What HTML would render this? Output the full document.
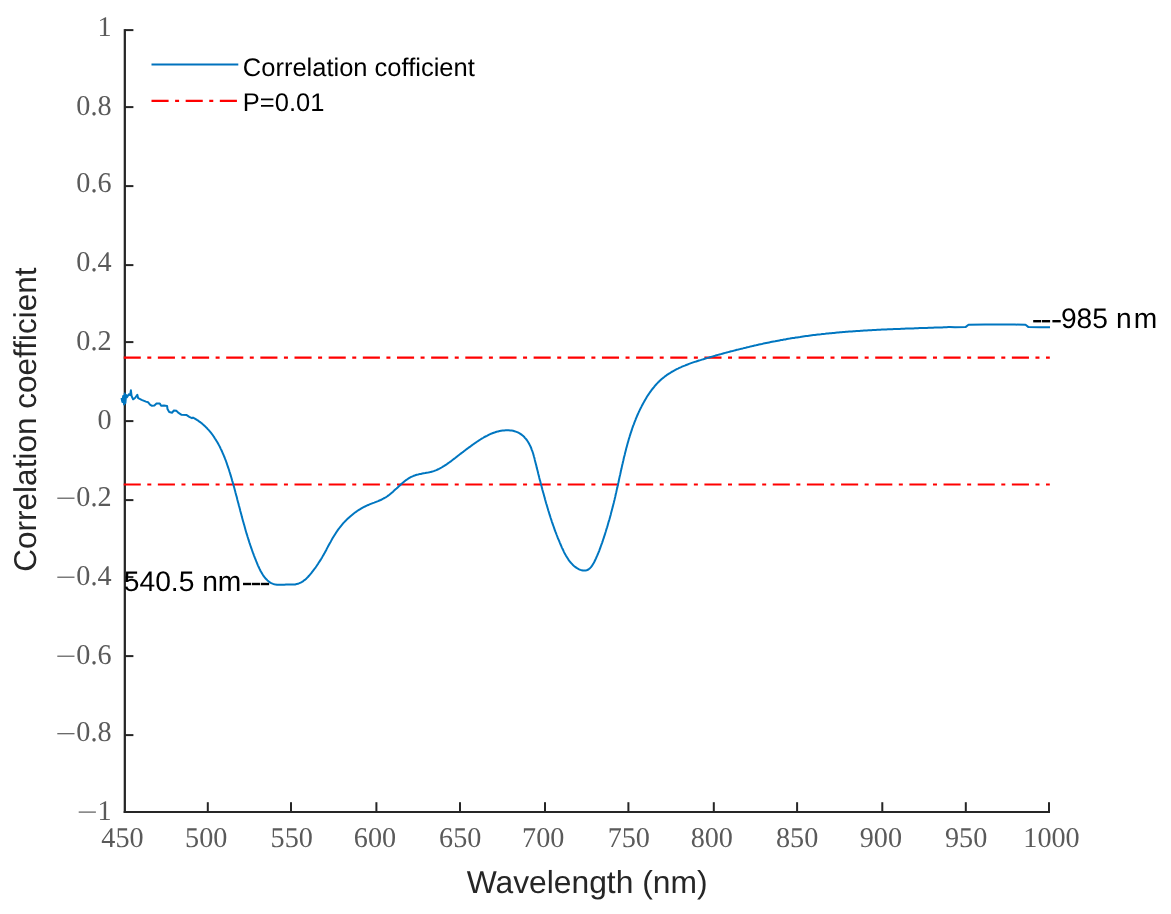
<!DOCTYPE html>
<html><head><meta charset="utf-8"><title>Correlation coefficient vs wavelength</title>
<style>html,body{margin:0;padding:0;background:#fff}body{width:1171px;height:914px;overflow:hidden;font-family:"Liberation Sans",sans-serif}svg{display:block;will-change:transform;text-rendering:geometricPrecision;filter:blur(0.35px)}</style>
</head><body>
<svg width="1171" height="914" viewBox="0 0 1171 914">
<rect width="100%" height="100%" fill="#fff"/>
<g fill="#262626">
<rect x="123.7" y="29.1" width="2.25" height="783.9"/>
<rect x="123.7" y="811" width="926.3" height="2"/>
<rect x="206.8" y="802.2" width="2" height="9"/>
<rect x="290.0" y="802.2" width="2" height="9"/>
<rect x="375.4" y="802.2" width="2" height="9"/>
<rect x="459.0" y="802.2" width="2" height="9"/>
<rect x="544.0" y="802.2" width="2" height="9"/>
<rect x="627.4" y="802.2" width="2" height="9"/>
<rect x="712.8" y="802.2" width="2" height="9"/>
<rect x="796.1" y="802.2" width="2" height="9"/>
<rect x="881.3" y="802.2" width="2" height="9"/>
<rect x="964.8" y="802.2" width="2" height="9"/>
<rect x="1048.0" y="802.2" width="2" height="9"/>
<rect x="125" y="29.1" width="8.4" height="2"/>
<rect x="125" y="106.1" width="8.4" height="2"/>
<rect x="125" y="185.1" width="8.4" height="2"/>
<rect x="125" y="264.1" width="8.4" height="2"/>
<rect x="125" y="341.1" width="8.4" height="2"/>
<rect x="125" y="420.1" width="8.4" height="2"/>
<rect x="125" y="499.1" width="8.4" height="2"/>
<rect x="125" y="576.1" width="8.4" height="2"/>
<rect x="125" y="655.1" width="8.4" height="2"/>
<rect x="125" y="734.1" width="8.4" height="2"/>
</g>
<line x1="123.7" y1="357.6" x2="1049.8" y2="357.6" stroke="#ff0000" stroke-width="2.2" stroke-dasharray="17.1 6.5 4 6.56"/>
<line x1="123.7" y1="484.5" x2="1049.8" y2="484.5" stroke="#ff0000" stroke-width="2.2" stroke-dasharray="17.1 6.5 4 6.56"/>
<path d="M121.5 398.0 L122.4 402.0 L123.2 396.0 L124.0 404.5 L124.7 393.5 L125.4 403.0 L126.1 395.0 L127.0 397.2 L128.8 394.4 L130.2 395.0 L130.9 390.3 L131.6 396.0 L133.1 399.3 L135.0 398.0 L137.3 394.8 L138.2 398.2 L141.6 399.9 L145.9 401.6 L148.0 402.2 L150.0 404.6 L152.0 405.8 L154.4 405.5 L156.5 403.6 L159.8 403.5 L161.1 405.7 L164.0 405.6 L167.1 405.9 L167.5 409.1 L169.2 412.1 L172.2 412.7 L173.9 410.4 L176.5 410.8 L178.2 412.7 L181.6 414.8 L186.7 415.1 L189.3 416.8 L192.0 418.2 L193.0 417.6 L194.4 418.3 L195.7 419.1 L196.9 419.9 L198.2 420.7 L199.4 421.6 L200.6 422.4 L201.7 423.3 L202.8 424.3 L203.9 425.2 L205.0 426.2 L206.0 427.3 L207.1 428.3 L208.0 429.4 L209.0 430.4 L210.0 431.6 L210.9 432.7 L211.8 433.8 L212.7 435.0 L213.5 436.2 L214.3 437.4 L215.1 438.7 L215.9 439.9 L216.7 441.2 L217.5 442.5 L218.2 443.8 L218.9 445.1 L219.6 446.4 L220.3 447.8 L220.9 449.1 L221.6 450.5 L222.2 451.9 L222.8 453.3 L223.4 454.7 L224.0 456.1 L224.6 457.5 L225.1 458.9 L225.7 460.3 L226.2 461.8 L226.7 463.2 L227.2 464.7 L227.7 466.1 L228.2 467.6 L228.7 469.0 L229.2 470.5 L229.6 472.0 L230.1 473.4 L230.5 474.9 L231.0 476.4 L231.4 477.8 L231.8 479.3 L232.2 480.8 L232.7 482.2 L233.1 483.7 L233.5 485.1 L233.9 486.6 L234.3 488.0 L234.7 489.4 L235.1 490.9 L235.4 492.3 L235.8 493.8 L236.2 495.2 L236.6 496.6 L237.0 498.1 L237.3 499.5 L237.7 500.9 L238.1 502.4 L238.5 503.8 L238.8 505.2 L239.2 506.6 L239.6 508.1 L240.0 509.5 L240.3 510.9 L240.7 512.3 L241.1 513.8 L241.5 515.2 L241.8 516.6 L242.2 518.0 L242.6 519.5 L243.0 520.9 L243.4 522.3 L243.8 523.7 L244.2 525.1 L244.6 526.6 L245.0 528.0 L245.4 529.4 L245.8 530.9 L246.2 532.3 L246.6 533.7 L247.1 535.1 L247.5 536.6 L248.0 538.0 L248.4 539.4 L248.9 540.9 L249.3 542.3 L249.8 543.7 L250.3 545.2 L250.8 546.6 L251.3 548.1 L251.8 549.5 L252.3 551.0 L252.8 552.4 L253.4 553.9 L253.9 555.3 L254.5 556.8 L255.0 558.2 L255.6 559.7 L256.2 561.2 L256.8 562.6 L257.4 564.1 L258.0 565.6 L258.7 567.0 L259.3 568.4 L260.0 569.8 L260.7 571.2 L261.5 572.5 L262.2 573.8 L263.0 575.1 L263.9 576.3 L264.7 577.4 L265.6 578.5 L266.6 579.5 L267.5 580.4 L268.5 581.3 L269.6 582.1 L270.7 582.8 L271.9 583.4 L273.1 583.9 L274.3 584.3 L275.6 584.6 L277.0 584.7 L278.4 584.8 L279.8 584.8 L281.3 584.8 L282.9 584.7 L284.4 584.7 L286.0 584.6 L287.5 584.6 L289.1 584.6 L290.6 584.6 L292.2 584.6 L293.7 584.5 L295.2 584.4 L296.6 584.1 L298.0 583.8 L299.4 583.2 L300.7 582.6 L302.0 581.9 L303.3 581.1 L304.5 580.1 L305.7 579.2 L306.8 578.1 L307.9 577.0 L309.0 575.8 L310.0 574.6 L311.1 573.4 L312.0 572.2 L313.0 570.9 L313.9 569.7 L314.8 568.5 L315.7 567.3 L316.6 566.0 L317.4 564.8 L318.2 563.6 L319.0 562.3 L319.8 561.1 L320.6 559.9 L321.4 558.6 L322.1 557.4 L322.8 556.1 L323.5 554.9 L324.3 553.6 L325.0 552.3 L325.7 551.0 L326.4 549.7 L327.0 548.4 L327.7 547.1 L328.4 545.8 L329.1 544.5 L329.8 543.2 L330.6 541.9 L331.3 540.6 L332.0 539.3 L332.7 538.1 L333.5 536.8 L334.3 535.5 L335.1 534.2 L335.9 532.9 L336.7 531.7 L337.6 530.4 L338.5 529.2 L339.4 528.0 L340.3 526.8 L341.3 525.6 L342.3 524.4 L343.3 523.2 L344.3 522.1 L345.4 521.0 L346.5 519.9 L347.6 518.8 L348.8 517.7 L349.9 516.7 L351.1 515.7 L352.3 514.7 L353.5 513.7 L354.7 512.8 L356.0 511.9 L357.2 511.0 L358.5 510.2 L359.8 509.4 L361.0 508.6 L362.3 507.8 L363.6 507.1 L364.9 506.5 L366.3 505.8 L367.6 505.2 L368.9 504.7 L370.2 504.1 L371.5 503.6 L372.8 503.1 L374.2 502.6 L375.5 502.1 L376.8 501.6 L378.1 501.1 L379.4 500.5 L380.7 500.0 L382.0 499.3 L383.2 498.7 L384.5 498.0 L385.7 497.3 L387.0 496.5 L388.2 495.6 L389.4 494.7 L390.6 493.7 L391.8 492.7 L393.0 491.7 L394.1 490.6 L395.3 489.5 L396.5 488.5 L397.7 487.4 L398.9 486.3 L400.1 485.2 L401.3 484.1 L402.5 483.1 L403.7 482.1 L404.9 481.1 L406.1 480.1 L407.4 479.2 L408.6 478.4 L409.9 477.6 L411.2 476.9 L412.6 476.3 L413.9 475.7 L415.3 475.3 L416.7 474.8 L418.1 474.5 L419.5 474.1 L420.9 473.9 L422.3 473.6 L423.8 473.3 L425.2 473.1 L426.6 472.8 L428.1 472.6 L429.5 472.3 L430.9 471.9 L432.3 471.6 L433.7 471.1 L435.0 470.6 L436.4 470.1 L437.7 469.5 L439.0 468.9 L440.4 468.2 L441.6 467.5 L442.9 466.7 L444.2 465.9 L445.4 465.1 L446.7 464.3 L447.9 463.4 L449.2 462.5 L450.4 461.7 L451.6 460.7 L452.8 459.8 L454.0 458.9 L455.2 458.0 L456.4 457.0 L457.6 456.1 L458.7 455.2 L459.9 454.3 L461.1 453.4 L462.3 452.5 L463.5 451.6 L464.6 450.7 L465.8 449.8 L467.0 448.9 L468.2 448.0 L469.4 447.1 L470.6 446.3 L471.8 445.4 L473.0 444.5 L474.2 443.7 L475.4 442.8 L476.6 442.0 L477.9 441.2 L479.1 440.3 L480.4 439.5 L481.7 438.7 L482.9 438.0 L484.2 437.2 L485.5 436.5 L486.9 435.8 L488.2 435.1 L489.6 434.4 L490.9 433.8 L492.3 433.3 L493.8 432.7 L495.2 432.3 L496.6 431.8 L498.1 431.4 L499.6 431.1 L501.1 430.8 L502.7 430.6 L504.2 430.4 L505.7 430.3 L507.2 430.3 L508.7 430.3 L510.2 430.4 L511.6 430.6 L513.1 430.8 L514.5 431.2 L515.8 431.6 L517.1 432.1 L518.4 432.7 L519.6 433.3 L520.8 434.1 L521.9 434.9 L523.0 435.8 L524.0 436.7 L524.9 437.8 L525.9 438.9 L526.8 440.0 L527.6 441.2 L528.4 442.5 L529.1 443.7 L529.8 445.1 L530.5 446.5 L531.1 447.9 L531.6 449.3 L532.2 450.8 L532.7 452.3 L533.2 453.8 L533.6 455.3 L534.0 456.8 L534.5 458.4 L534.8 459.9 L535.2 461.4 L535.6 463.0 L536.0 464.5 L536.4 466.0 L536.7 467.6 L537.1 469.1 L537.5 470.6 L537.9 472.0 L538.2 473.5 L538.6 475.0 L539.0 476.5 L539.3 477.9 L539.7 479.4 L540.1 480.8 L540.5 482.3 L540.8 483.7 L541.2 485.1 L541.6 486.5 L542.0 488.0 L542.3 489.4 L542.7 490.8 L543.1 492.2 L543.5 493.6 L543.9 495.0 L544.3 496.4 L544.7 497.8 L545.0 499.2 L545.4 500.6 L545.8 502.0 L546.2 503.5 L546.7 504.9 L547.1 506.3 L547.5 507.7 L547.9 509.1 L548.3 510.5 L548.8 511.9 L549.2 513.3 L549.6 514.7 L550.1 516.1 L550.5 517.5 L551.0 519.0 L551.5 520.4 L551.9 521.8 L552.4 523.2 L552.9 524.6 L553.4 526.0 L553.9 527.4 L554.4 528.9 L554.9 530.3 L555.4 531.7 L556.0 533.1 L556.5 534.5 L557.1 536.0 L557.6 537.4 L558.2 538.8 L558.8 540.2 L559.4 541.6 L560.0 543.1 L560.6 544.5 L561.2 545.9 L561.8 547.3 L562.5 548.8 L563.2 550.2 L563.8 551.6 L564.5 553.0 L565.3 554.4 L566.0 555.7 L566.8 557.0 L567.6 558.3 L568.4 559.6 L569.3 560.8 L570.2 562.0 L571.2 563.1 L572.2 564.2 L573.2 565.3 L574.3 566.2 L575.5 567.1 L576.6 567.9 L577.9 568.7 L579.1 569.3 L580.4 569.9 L581.7 570.2 L582.9 570.5 L584.2 570.6 L585.5 570.5 L586.7 570.2 L587.8 569.8 L588.9 569.1 L590.0 568.2 L591.0 567.1 L591.9 565.9 L592.8 564.5 L593.7 563.0 L594.5 561.5 L595.2 560.0 L596.0 558.4 L596.6 556.9 L597.3 555.4 L597.9 554.0 L598.5 552.5 L599.1 551.1 L599.6 549.7 L600.1 548.3 L600.6 546.9 L601.1 545.5 L601.6 544.1 L602.1 542.8 L602.6 541.4 L603.0 540.0 L603.5 538.6 L604.0 537.2 L604.4 535.8 L604.9 534.4 L605.3 533.0 L605.8 531.5 L606.2 530.1 L606.6 528.7 L607.1 527.3 L607.5 525.9 L607.9 524.4 L608.3 523.0 L608.7 521.6 L609.2 520.1 L609.6 518.7 L610.0 517.3 L610.4 515.8 L610.8 514.4 L611.1 512.9 L611.5 511.5 L611.9 510.0 L612.3 508.6 L612.7 507.1 L613.0 505.7 L613.4 504.2 L613.8 502.8 L614.1 501.3 L614.5 499.9 L614.8 498.4 L615.2 496.9 L615.5 495.5 L615.8 494.0 L616.2 492.5 L616.5 491.1 L616.8 489.6 L617.2 488.1 L617.5 486.7 L617.8 485.2 L618.1 483.7 L618.5 482.3 L618.8 480.8 L619.1 479.3 L619.4 477.9 L619.7 476.4 L620.1 474.9 L620.4 473.5 L620.7 472.0 L621.0 470.5 L621.4 469.1 L621.7 467.6 L622.0 466.1 L622.3 464.7 L622.7 463.2 L623.0 461.7 L623.4 460.3 L623.7 458.8 L624.0 457.3 L624.4 455.9 L624.8 454.4 L625.1 453.0 L625.5 451.5 L625.9 450.1 L626.2 448.6 L626.6 447.2 L627.0 445.7 L627.4 444.3 L627.8 442.8 L628.2 441.4 L628.6 439.9 L629.0 438.5 L629.5 437.1 L629.9 435.6 L630.4 434.2 L630.8 432.8 L631.3 431.4 L631.8 429.9 L632.2 428.5 L632.7 427.1 L633.2 425.7 L633.8 424.3 L634.3 422.9 L634.8 421.5 L635.4 420.1 L635.9 418.7 L636.5 417.3 L637.1 415.9 L637.7 414.5 L638.3 413.2 L638.9 411.8 L639.6 410.4 L640.2 409.1 L640.9 407.7 L641.6 406.4 L642.3 405.0 L643.0 403.7 L643.7 402.4 L644.5 401.1 L645.2 399.7 L646.0 398.4 L646.8 397.1 L647.6 395.8 L648.4 394.6 L649.3 393.3 L650.1 392.1 L651.0 390.9 L651.9 389.6 L652.8 388.5 L653.8 387.3 L654.7 386.1 L655.7 385.0 L656.7 383.9 L657.7 382.8 L658.8 381.8 L659.8 380.8 L660.9 379.8 L662.0 378.8 L663.1 377.9 L664.3 377.0 L665.4 376.1 L666.6 375.2 L667.8 374.4 L669.0 373.6 L670.3 372.8 L671.5 372.0 L672.8 371.3 L674.1 370.6 L675.4 369.9 L676.7 369.2 L678.0 368.6 L679.3 367.9 L680.7 367.3 L682.0 366.7 L683.4 366.1 L684.8 365.6 L686.2 365.0 L687.6 364.5 L689.0 363.9 L690.4 363.4 L691.8 362.9 L693.2 362.4 L694.7 361.9 L696.1 361.5 L697.6 361.0 L699.0 360.5 L700.5 360.1 L701.9 359.6 L703.4 359.2 L704.8 358.7 L706.3 358.3 L707.7 357.9 L709.2 357.5 L710.7 357.0 L712.1 356.6 L713.6 356.2 L715.0 355.8 L716.5 355.3 L718.0 354.9 L719.4 354.5 L720.9 354.1 L722.3 353.7 L723.8 353.3 L725.3 352.9 L726.7 352.5 L728.2 352.1 L729.6 351.7 L731.1 351.3 L732.6 351.0 L734.0 350.6 L735.5 350.2 L736.9 349.8 L738.4 349.5 L739.9 349.1 L741.3 348.7 L742.8 348.4 L744.3 348.0 L745.7 347.7 L747.2 347.3 L748.7 347.0 L750.1 346.6 L751.6 346.3 L753.1 345.9 L754.5 345.6 L756.0 345.3 L757.4 344.9 L758.9 344.6 L760.4 344.3 L761.8 344.0 L763.3 343.6 L764.8 343.3 L766.2 343.0 L767.7 342.7 L769.2 342.4 L770.7 342.1 L772.1 341.8 L773.6 341.5 L775.1 341.3 L776.5 341.0 L778.0 340.7 L779.5 340.4 L780.9 340.1 L782.4 339.9 L783.9 339.6 L785.4 339.4 L786.8 339.1 L788.3 338.8 L789.8 338.6 L791.2 338.3 L792.7 338.1 L794.2 337.9 L795.7 337.6 L797.1 337.4 L798.6 337.2 L800.1 337.0 L801.6 336.7 L803.0 336.5 L804.5 336.3 L806.0 336.1 L807.5 335.9 L808.9 335.7 L810.4 335.5 L811.9 335.3 L813.4 335.1 L814.9 335.0 L816.3 334.8 L817.8 334.6 L819.3 334.4 L820.8 334.3 L822.3 334.1 L823.7 333.9 L825.2 333.8 L826.7 333.6 L828.2 333.5 L829.7 333.3 L831.2 333.2 L832.6 333.0 L834.1 332.9 L835.6 332.7 L837.1 332.6 L838.6 332.5 L840.1 332.3 L841.5 332.2 L843.0 332.1 L844.5 332.0 L846.0 331.8 L847.5 331.7 L849.0 331.6 L850.5 331.5 L852.0 331.4 L853.4 331.3 L854.9 331.2 L856.4 331.1 L857.9 331.0 L859.4 330.9 L860.9 330.8 L862.4 330.7 L863.9 330.6 L865.4 330.5 L866.9 330.4 L868.4 330.3 L869.8 330.2 L871.3 330.2 L872.8 330.1 L874.3 330.0 L875.8 329.9 L877.3 329.8 L878.8 329.8 L880.3 329.7 L881.8 329.6 L883.3 329.6 L884.8 329.5 L886.3 329.4 L887.8 329.3 L889.3 329.3 L890.8 329.2 L892.3 329.2 L893.8 329.1 L895.3 329.0 L896.8 329.0 L898.3 328.9 L899.8 328.9 L901.3 328.8 L902.8 328.7 L904.3 328.7 L905.8 328.6 L907.3 328.6 L908.9 328.5 L910.4 328.5 L911.9 328.4 L913.4 328.4 L914.9 328.3 L916.4 328.3 L917.9 328.2 L919.4 328.1 L920.9 328.1 L922.4 328.0 L924.0 328.0 L925.5 327.9 L927.0 327.9 L928.5 327.8 L930.0 327.8 L931.5 327.7 L933.0 327.7 L934.6 327.6 L936.1 327.6 L937.6 327.5 L939.1 327.5 L940.6 327.4 L942.1 327.4 L943.7 327.3 L945.2 327.3 L946.7 327.2 L948.2 327.1 L949.7 327.1 L955.0 327.2 L965.5 327.1 L968.5 324.8 L985.0 324.6 L1000.0 324.4 L1015.0 324.6 L1025.5 324.8 L1028.5 327.1 L1040.0 327.2 L1050.0 327.2" fill="none" stroke="#0076c0" stroke-width="2" stroke-linejoin="round"/>
<g font-family="'Liberation Serif', serif" font-size="28.6" fill="#5a5a5a">
<text transform="translate(122.5 846.8) scale(0.986 1)" text-anchor="middle">450</text>
<text transform="translate(206.2 846.8) scale(0.986 1)" text-anchor="middle">500</text>
<text transform="translate(291.7 846.8) scale(0.986 1)" text-anchor="middle">550</text>
<text transform="translate(375.0 846.8) scale(0.986 1)" text-anchor="middle">600</text>
<text transform="translate(460.2 846.8) scale(0.986 1)" text-anchor="middle">650</text>
<text transform="translate(543.2 846.8) scale(0.986 1)" text-anchor="middle">700</text>
<text transform="translate(628.8 846.8) scale(0.986 1)" text-anchor="middle">750</text>
<text transform="translate(711.8 846.8) scale(0.986 1)" text-anchor="middle">800</text>
<text transform="translate(797.1 846.8) scale(0.986 1)" text-anchor="middle">850</text>
<text transform="translate(880.9 846.8) scale(0.986 1)" text-anchor="middle">900</text>
<text transform="translate(966.1 846.8) scale(0.986 1)" text-anchor="middle">950</text>
<text transform="translate(1051.5 846.8) scale(0.986 1)" text-anchor="middle">1000</text>
<text transform="translate(111.6 35.7) scale(0.986 1)" text-anchor="end">1</text>
<text transform="translate(111.6 114.7) scale(0.986 1)" text-anchor="end">0.8</text>
<text transform="translate(111.6 191.7) scale(0.986 1)" text-anchor="end">0.6</text>
<text transform="translate(111.6 270.7) scale(0.986 1)" text-anchor="end">0.4</text>
<text transform="translate(111.6 349.7) scale(0.986 1)" text-anchor="end">0.2</text>
<text transform="translate(111.6 428.7) scale(0.986 1)" text-anchor="end">0</text>
<text transform="translate(111.6 505.7) scale(0.986 1)" text-anchor="end">0.2</text>
<rect x="57.3" y="497.6" width="17.2" height="1.2"/>
<text transform="translate(111.6 584.7) scale(0.986 1)" text-anchor="end">0.4</text>
<rect x="57.3" y="576.6" width="17.2" height="1.2"/>
<text transform="translate(111.6 663.7) scale(0.986 1)" text-anchor="end">0.6</text>
<rect x="57.3" y="655.6" width="17.2" height="1.2"/>
<text transform="translate(111.6 741.2) scale(0.986 1)" text-anchor="end">0.8</text>
<rect x="57.3" y="733.1" width="17.2" height="1.2"/>
<text transform="translate(111.6 819.6) scale(0.986 1)" text-anchor="end">1</text>
<rect x="78.7" y="811.5" width="17.2" height="1.2"/>
</g>
<line x1="151.5" y1="64.5" x2="238.3" y2="64.5" stroke="#0072bd" stroke-width="2"/>
<line x1="151.5" y1="100.9" x2="238.3" y2="100.9" stroke="#ff0000" stroke-width="2.2" stroke-dasharray="17.1 6.5 4 6.56"/>
<g font-family="'Liberation Sans', sans-serif" fill="#000">
<text x="242.8" y="75.8" font-size="25.5">Correlation cofficient</text>
<text x="242.8" y="110.5" font-size="25.5">P=0.01</text>
<text x="123.8" y="590.8" font-size="28.2">540.5 nm</text>
<text x="1060.9" y="327.8" font-size="28.2">985 <tspan dx="0.3">n</tspan><tspan dx="2.0">m</tspan></text>
<rect x="243.0" y="582.8" width="8.1" height="2.4"/>
<rect x="251.9" y="582.8" width="8.1" height="2.4"/>
<rect x="260.8" y="582.8" width="8.3" height="2.4"/>
<rect x="1033.2" y="320.0" width="8.0" height="2.4"/>
<rect x="1042.0" y="320.0" width="8.1" height="2.4"/>
<rect x="1052.4" y="320.0" width="8.3" height="2.4"/>
</g>
<g font-family="'Liberation Sans', sans-serif" fill="#262626" font-size="31.5">
<text x="587.1" y="893" text-anchor="middle" font-size="31.8">Wavelength (nm)</text>
<text transform="translate(35.5 419.6) rotate(-90)" text-anchor="middle">Correlation coefficient</text>
</g>
</svg>
</body></html>
